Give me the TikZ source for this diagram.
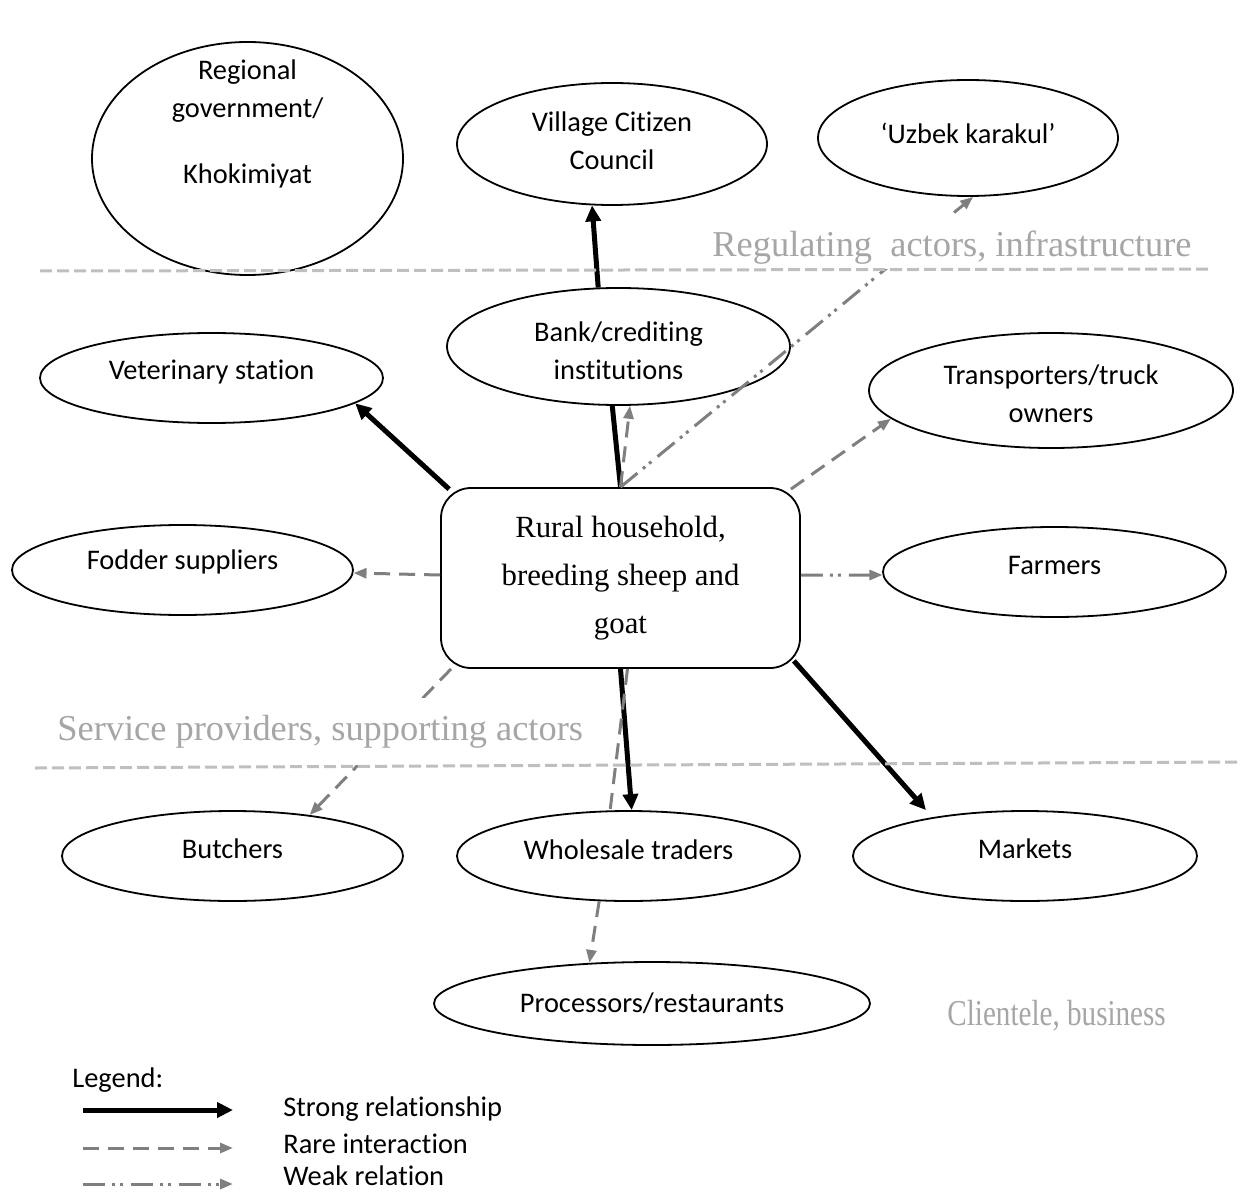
\documentclass[tikz,border=0pt]{standalone}
\usepackage{fontspec}
\setmainfont{Carlito}[Ligatures={NoCommon,NoContextual}]
\newfontfamily\tnr{Liberation Serif}
\usetikzlibrary{shapes.geometric,arrows.meta,calc}
\definecolor{arrgray}{HTML}{7F7F7F}
\definecolor{zonegray}{HTML}{BFBFBF}
\definecolor{lblgray}{HTML}{A6A6A6}
\begin{document}
\begin{tikzpicture}[x=0.5pt,y=-0.5pt,
  oval/.style 2 args={ellipse, draw=black, line width=0.9pt, fill=white, inner sep=0pt, minimum width=#1, minimum height=#2},
  lbl/.style={font=\fontsize{14.2}{19}\selectfont, align=center, inner sep=0pt},
  hhbox/.style={draw=black, line width=0.9pt, fill=white, rounded corners=15pt, minimum width=179.5pt, minimum height=90pt, inner sep=0pt, align=center, font=\tnr\fontsize{15.4}{24}\selectfont},
  strongline/.style={draw=black, line width=2.5pt},
  strong/.style={strongline, -{Triangle[length=8pt,width=7.5pt]}},
  raredash/.style={draw=arrgray, line width=1.5pt, dash pattern=on 8pt off 4.5pt},
  rare/.style={raredash, -{Triangle[length=6.5pt,width=5pt]}},
  weak/.style={draw=arrgray, line width=1.5pt, dash pattern=on 11pt off 3.5pt on 1.5pt off 2.5pt on 1.5pt off 4pt, -{Triangle[length=6.5pt,width=5pt]}},
  zone/.style={draw=zonegray, line width=1.5pt, dash pattern=on 6pt off 2.5pt},
  zonelbl/.style={font=\tnr\fontsize{18.2}{22}\selectfont, text=lblgray, fill=white, inner xsep=1pt, inner ysep=6pt, text height=15pt, anchor=base west}
]
\useasboundingbox (0,0) rectangle (1240,1192);

% ellipses
\node[oval={155.5pt}{116.5pt}] (reg) at (247.5,158.5) {};
\node[oval={155pt}{61pt}] (vil) at (612,144) {};
\node[oval={150pt}{58pt}] (uzb) at (968,138) {};
\node[oval={171.5pt}{58.5pt}] (bank) at (618.5,346.5) {};
\node[oval={171.5pt}{45pt}] (vet) at (211.5,378) {};
\node[oval={182pt}{57.5pt}] (trn) at (1051,390.5) {};
\node[oval={170.5pt}{45pt}] (fod) at (182.5,570) {};
\node[oval={171.5pt}{45pt}] (frm) at (1054.5,572) {};
\node[oval={170.5pt}{45pt}] (but) at (232.5,856) {};
\node[oval={171.5pt}{45pt}] (whl) at (628.5,856) {};
\node[oval={172pt}{45pt}] (mkt) at (1025,856) {};
\node[oval={218pt}{41.5pt}] (prc) at (652,1003.5) {};

% texts of ellipses
\node[lbl] (regt) at (247.5,124) {Regional\\government/\\[14pt]Khokimiyat};
\node[lbl] (vilt) at (612,141) {Village Citizen\\Council};
\node[lbl] (uzbt) at (968,133) {‘Uzbek karakul’};
\node[lbl] (bankt) at (618.5,350.5) {Bank/crediting\\institutions};
\node[lbl] (vett) at (211.5,372) {Veterinary station};
\node[lbl] (trnt) at (1051,394) {Transporters/truck\\owners};
\node[lbl] (fodt) at (182.5,562) {Fodder suppliers};
\node[lbl] (frmt) at (1054.5,565) {Farmers};
\node[lbl] (butt) at (232.5,849) {Butchers};
\node[lbl] (whlt) at (628.5,850) {Wholesale traders};
\node[lbl] (mktt) at (1025,849) {Markets};
\node[lbl] (prct) at (652,1003) {Processors/restaurants};

% central box
\node[hhbox] (hh) at (620.5,578) {Rural household,\\breeding sheep and\\goat};

% connectors
\draw[strong] ($(hh.north west)+(9,2)$) -- (vet.-10.7);
\draw[strongline] (hh.north) -- (bank.-96);
\draw[rare] (hh.north) -- (bank.-79);
\draw[weak] (hh.north) -- (uzb.-85);
\draw[strong] (bank.109) -- (vil.-108);
\draw[rare] ($(hh.north east)+(-10,2)$) -- (trn.-170);
\draw[weak] ($(hh.east)+(0,-3)$) -- (frm.181);
\draw[rare] ($(hh.west)+(0,-3)$) -- (fod.-1.7);
\draw[rare] ($(hh.south west)+(11,0)$) -- (but.28);
\draw[strong] (hh.south) -- (whl.86);
\draw[raredash] ($(hh.south)+(7,0)$) -- (whl.112);
\draw[rare] (whl.-123.5) -- (prc.147);
\draw[strong] ($(hh.south east)+(-7,-8)$) -- ($(mkt.north)+(-99,0)$);

% zone labels
\node[zonelbl, text depth=0pt] (zreg) at (710,257) {Regulating\ \ actors, infrastructure};
\node[zonelbl, text depth=6.5pt] (zsrv) at (55,740) {Service providers, supporting actors};
\node[zonelbl, text depth=3pt] (zcli) at (945,1025) {\scalebox{0.8}[1]{Clientele, business}};

% zone lines
\coordinate (z1a) at (40,271);
\coordinate (z1b) at (1210,269);
\coordinate (z2a) at (35,768);
\coordinate (z2b) at (1240,762);
\draw[zone] (z1a) -- (z1b);
\draw[zone] (z2a) -- (z2b);

% legend
\node[lbl, anchor=west] (leg) at (72,1080) {Legend:};
\coordinate (s1) at (83,1110);
\coordinate (s2) at (233,1110);
\coordinate (r1) at (83,1148);
\coordinate (r2) at (233,1148);
\coordinate (w1) at (83,1184);
\coordinate (w2) at (233,1184);
\draw[strong] (s1) -- (s2);
\draw[rare] (r1) -- (r2);
\draw[weak] (w1) -- (w2);
\node[lbl, anchor=west] (lst) at (283,1109) {Strong relationship};
\node[lbl, anchor=west] (lrt) at (283,1144) {Rare interaction};
\node[lbl, anchor=west] (lwt) at (283,1176) {Weak relation};
\end{tikzpicture}
\end{document}
